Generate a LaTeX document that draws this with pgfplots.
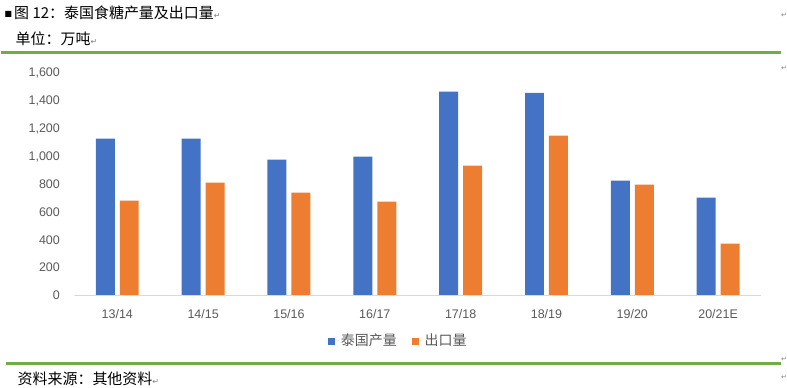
\documentclass[border=0pt]{standalone}
\usepackage{pgfplots}
\pgfplotsset{compat=1.18}
\usepackage{pgfplotstable}
\usepackage{fontspec}
\setmainfont{Liberation Sans}
\newfontfamily\cjk{Noto Sans CJK SC}
\newfontfamily\sym{DejaVu Sans}
\definecolor{barblue}{HTML}{4472C4}
\definecolor{barorange}{HTML}{ED7D31}
\definecolor{lgreen}{HTML}{70AD47}
\definecolor{txtgray}{HTML}{595959}
\definecolor{axgray}{HTML}{D9D9D9}
\pgfplotstableread{
x prod export
0 1130 683
1 1130 813
2 978 741
3 1000 676
4 1468 935
5 1460 1151
6 827 799
7 705 374
}\datatable
\begin{document}
\begin{tikzpicture}
\begin{scope}[x=1bp,y=1bp]
\path (0,0) rectangle (787,388);
\draw[lgreen, line width=3bp] (0,335) -- (781,335);
\draw[lgreen, line width=3bp] (5,24) -- (781,24);
\node[anchor=west, inner sep=0] at (3,375) {\cjk\fontsize{15bp}{17bp}\selectfont \raisebox{2bp}{\sym\fontsize{8bp}{9bp}\selectfont ■}\hspace{2bp}图 12：泰国食糖产量及出口量{\sym\fontsize{8bp}{9bp}\selectfont\color{gray}↵}};
\node[anchor=west, inner sep=0] at (14,349) {\cjk\fontsize{15bp}{17bp}\selectfont 单位：万吨{\sym\fontsize{8bp}{9bp}\selectfont\color{gray}↵}};
\node[anchor=west, inner sep=0] at (16,8) {\cjk\fontsize{15bp}{17bp}\selectfont 资料来源：其他资料{\sym\fontsize{8bp}{9bp}\selectfont\color{gray}↵}};
\foreach \yy in {373,320,28,10} {\node[inner sep=0, text=gray] at (784,\yy) {\sym\fontsize{7bp}{8bp}\selectfont ↵};}
\end{scope}
\begin{axis}[
  at={(73bp,92bp)}, anchor=south west,
  scale only axis, width=688bp, height=222.5bp,
  xmin=-0.5, xmax=7.5, ymin=0, ymax=1600,
  ybar=5bp, bar width=19bp,
  axis line style={draw=none},
  major tick length=0pt,
  xtick={0,...,7},
  xticklabels={13/14,14/15,15/16,16/17,17/18,18/19,19/20,20/21E},
  ytick={0,200,...,1600},
  /pgf/number format/.cd, 1000 sep={,}, assume math mode=true,
  /pgfplots/.cd,
  ticklabel style={font=\fontsize{12.5bp}{15bp}\selectfont, text=txtgray},
  yticklabel style={xshift=-11bp},
  xticklabel style={yshift=-11bp},
  legend style={at={(0.4717,-0.202)}, anchor=center, draw=none,
    legend columns=2, font=\cjk\fontsize{14bp}{16bp}\selectfont, text=txtgray,
    /tikz/every even column/.append style={column sep=13bp}},
  legend cell align=left,
]
\addplot[fill=barblue, draw=none, legend image code/.code={\fill[barblue] (0bp,-4.5bp) rectangle (7bp,2.5bp); \path (0bp,0bp) -- (11bp,0bp);}] table[x=x,y=prod] {\datatable};
\addplot[fill=barorange, draw=none, legend image code/.code={\fill[barorange] (0bp,-4.5bp) rectangle (7bp,2.5bp); \path (0bp,0bp) -- (11bp,0bp);}] table[x=x,y=export] {\datatable};
\legend{泰国产量,出口量}
\draw[axgray, line width=1bp] (axis cs:-0.5,0) -- (axis cs:7.5,0);
\end{axis}
\end{tikzpicture}
\end{document}
